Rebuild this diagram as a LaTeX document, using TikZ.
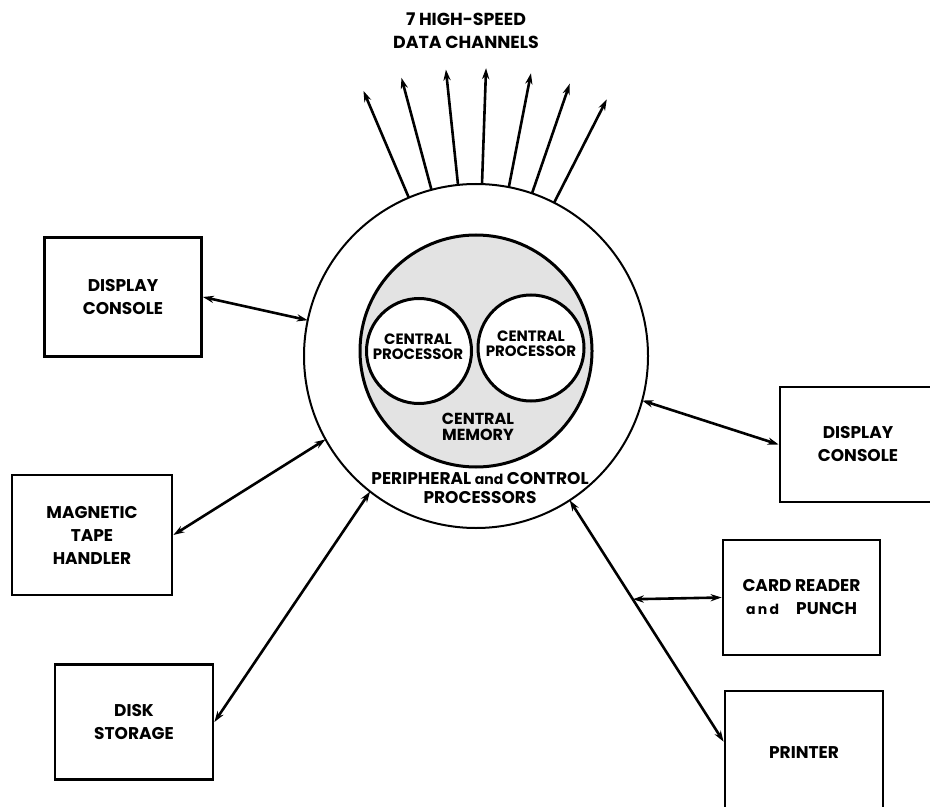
\documentclass[tikz,border=0pt]{standalone}
\usepackage{fontspec}
\setmainfont{Poppins}
\usetikzlibrary{shapes, arrows.meta}

\begin{document}
\begin{tikzpicture}[x=0.5pt, y=-0.5pt, >={Stealth[length=5.5pt, width=3.6pt]}, line width=1pt,
  box/.style={rectangle, draw, line width=1.4pt, minimum width=78.5pt, minimum height=59.5pt, align=center, font=\fontsize{8.5}{11.5}\selectfont\bfseries},
  ring/.style={circle, draw, inner sep=0pt, outer sep=0pt},
  lbl/.style={align=center, inner sep=0pt, font=\fontsize{#1}{#1}\selectfont\bfseries},
  link/.style={<->, line width=1.3pt}]
\useasboundingbox (0,0) rectangle (930,807);
\clip (0,0) rectangle (930,807);

\node[ring, minimum size=172pt] (P) at (476,356) {};
\node[ring, fill=gray!22, line width=1.5pt, minimum size=116pt] (M) at (476,351) {};
\node[ring, fill=white, line width=1.5pt, minimum size=52.5pt] (C1) at (419,351) {};
\node[ring, fill=white, line width=1.5pt, minimum size=53pt] (C2) at (531,348) {};
\node[lbl=7.5] (c1) at (418,347) {CENTRAL\\PROCESSOR};
\node[lbl=7.5] (c2) at (531,344) {CENTRAL\\PROCESSOR};
\node[lbl=8] (m) at (478,427) {CENTRAL\\MEMORY};
\node[lbl=9.5, font=\fontsize{8.5}{9.5}\selectfont\bfseries] (p) at (480,488) {PERIPHERAL {\fontsize{7}{9}\selectfont and} CONTROL\\PROCESSORS};
\node[lbl=11.5, font=\fontsize{8.7}{11.5}\selectfont\bfseries] (h) at (466,31) {7 HIGH-SPEED\\DATA CHANNELS};

\foreach \a in {113,105,96,88,79,71,63}
  \draw[->, line width=1.3pt] (P.\a) -- ++(\a:58pt);

\node[box] (D1) at (123,297) {DISPLAY\\CONSOLE};
\node[box, minimum width=80pt, minimum height=60pt] (T) at (92,535) {MAGNETIC\\TAPE\\HANDLER};
\node[box, minimum width=79pt, minimum height=57.5pt] (S) at (134,722) {DISK\\STORAGE};
\node[box, minimum width=78pt, minimum height=57.5pt] (D2) at (858,444.5) {DISPLAY\\CONSOLE};
\node[box, minimum width=78.5pt, minimum height=57.5pt] (C) at (801.5,597.5) {CARD READER\\{\fontsize{7}{9}\selectfont a\,n\,d}\quad PUNCH};
\node[box, minimum width=79pt, minimum height=62pt] (R) at (804,753) {PRINTER};

\draw[link] (D1.east) -- (P.168);
\draw[link] (T.east) -- (P.209.5);
\draw[link] (S.east) -- (P.232);
\draw[link] (P.345) -- (D2.west);
\draw[link] (P.303) -- (R.172) coordinate[pos=0.41] (tap);
\draw[link] (tap) -- (C.west);
\end{tikzpicture}
\end{document}
